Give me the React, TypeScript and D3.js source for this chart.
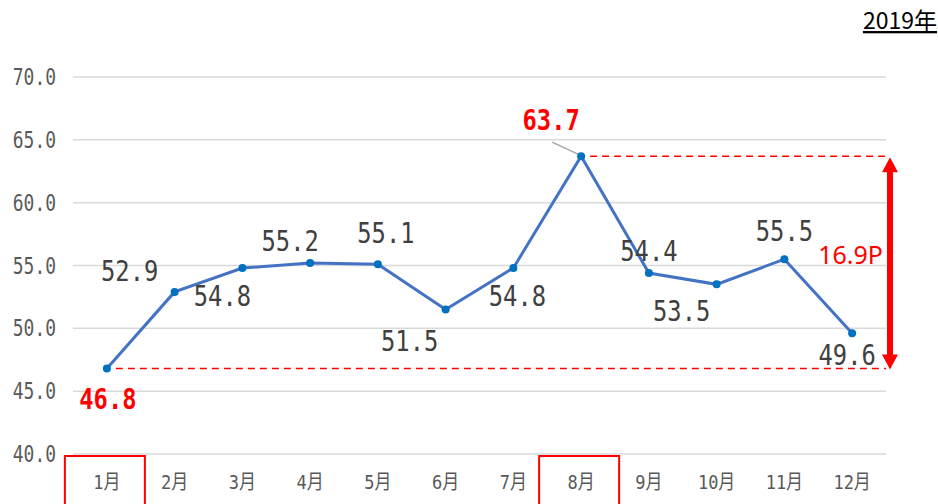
import React, { useEffect, useRef } from "react";
import * as d3 from "d3";

const months = ["1月", "2月", "3月", "4月", "5月", "6月", "7月", "8月", "9月", "10月", "11月", "12月"];
const values = [46.8, 52.9, 54.8, 55.2, 55.1, 51.5, 54.8, 63.7, 54.4, 53.5, 55.5, 49.6];
const yTicks = [40, 45, 50, 55, 60, 65, 70];
const highlighted = ["1月", "8月"];
const yearLabel = "2019年";
const diffLabel = "16.9P";

// label offsets from the point (dx, baseline dy)
const labelOffsets: [number, number][] = [
  [1, 40], [-45, -11], [-20, 38], [-20, -12], [8, -21], [-36, 42],
  [4, 38], [-30, -26], [0, -12], [-35, 37], [0, -18], [-5, 32],
];

const App: React.FC = () => {
  const svgRef: any = useRef();

  useEffect(() => {
    const svg = d3.select(svgRef.current);
    svg.selectAll("*").remove();

    const left = 73;
    const right = 886;
    const top = 77;
    const bottom = 454;

    const xScale = d3.scaleBand().domain(months).range([left, right]);
    const yScale = d3.scaleLinear().domain([40, 70]).range([bottom, top]);
    const cx = (m: string) => (xScale(m) as number) + xScale.bandwidth() / 2;

    const minV = d3.min(values) as number;
    const maxV = d3.max(values) as number;
    const minI = values.indexOf(minV);
    const maxI = values.indexOf(maxV);

    // grid
    yTicks.forEach((t) => {
      svg.append("line")
        .attr("x1", left).attr("x2", right)
        .attr("y1", yScale(t)).attr("y2", yScale(t))
        .attr("stroke", "#d9d9d9").attr("stroke-width", 1.5);

      svg.append("g")
        .attr("transform", `translate(56,${yScale(t) + 8}) scale(0.78,1)`)
        .append("text")
        .attr("text-anchor", "end")
        .attr("font-family", "DejaVu Sans Mono")
        .attr("font-size", 23)
        .attr("fill", "#595959")
        .text(t.toFixed(1));
    });

    // x labels
    months.forEach((m) => {
      svg.append("g")
        .attr("transform", `translate(${cx(m)},489) scale(0.85,1)`)
        .append("text")
        .attr("text-anchor", "middle")
        .attr("font-family", "'DejaVu Sans Mono', 'Noto Sans CJK JP'")
        .attr("font-size", 20)
        .attr("fill", "#595959")
        .text(m);
    });

    highlighted.forEach((m) => {
      svg.append("rect")
        .attr("x", cx(m) - 42).attr("y", 456)
        .attr("width", 80).attr("height", 60)
        .attr("fill", "none").attr("stroke", "#ff0000").attr("stroke-width", 2);
    });

    // min / max dashed lines
    [[minI, minV], [maxI, maxV]].forEach(([i, v]) => {
      svg.append("line")
        .attr("x1", cx(months[i]) + 9).attr("x2", right)
        .attr("y1", yScale(v)).attr("y2", yScale(v))
        .attr("stroke", "#ff0000").attr("stroke-width", 1.5)
        .attr("stroke-dasharray", "7,5");
    });

    // double arrow
    const ax = 890;
    const yTop = yScale(maxV) + 1;
    const yBot = yScale(minV) + 1;
    svg.append("line")
      .attr("x1", ax).attr("x2", ax)
      .attr("y1", yTop + 12).attr("y2", yBot - 12)
      .attr("stroke", "#ff0000").attr("stroke-width", 6);
    svg.append("path")
      .attr("d", `M${ax},${yTop} L${ax - 8},${yTop + 15} L${ax + 8},${yTop + 15} Z`)
      .attr("fill", "#ff0000");
    svg.append("path")
      .attr("d", `M${ax},${yBot} L${ax - 8},${yBot - 15} L${ax + 8},${yBot - 15} Z`)
      .attr("fill", "#ff0000");

    svg.append("text")
      .attr("x", 883).attr("y", 264)
      .attr("text-anchor", "end")
      .attr("font-family", "Noto Sans")
      .attr("font-size", 25)
      .attr("fill", "#ff0000")
      .text(diffLabel);

    // leader line for max label
    const mx = cx(months[maxI]);
    const my = yScale(maxV);
    svg.append("line")
      .attr("x1", mx - 29).attr("y1", my - 14)
      .attr("x2", mx - 1).attr("y2", my - 1)
      .attr("stroke", "#a6a6a6").attr("stroke-width", 1.5);

    // series line
    const line: any = d3.line<number>()
      .x((_, i) => cx(months[i]))
      .y((d) => yScale(d));

    svg.append("path")
      .datum(values)
      .attr("fill", "none")
      .attr("stroke", "#4472c4")
      .attr("stroke-width", 3)
      .attr("d", line);

    values.forEach((v, i) => {
      svg.append("circle")
        .attr("cx", cx(months[i])).attr("cy", yScale(v))
        .attr("r", 4).attr("fill", "#0070c0");
    });

    // data labels
    values.forEach((v, i) => {
      const isExt = i === minI || i === maxI;
      const [dx, dy] = labelOffsets[i];
      svg.append("g")
        .attr("transform", `translate(${cx(months[i]) + dx},${yScale(v) + dy}) scale(0.82,1)`)
        .append("text")
        .attr("text-anchor", "middle")
        .attr("font-family", "DejaVu Sans Mono")
        .attr("font-size", 29)
        .attr("font-weight", isExt ? "bold" : "normal")
        .attr("fill", isExt ? "#ff0000" : "#404040")
        .text(v.toFixed(1));
    });

    // year label
    svg.append("text")
      .attr("x", 937).attr("y", 29)
      .attr("text-anchor", "end")
      .attr("font-family", "'Noto Sans CJK JP'")
      .attr("font-size", 23)
      .attr("fill", "#000000")
      .attr("text-decoration", "underline")
      .text(yearLabel);
  }, []);

  return (
    <svg
      ref={svgRef}
      width={938}
      height={504}
      style={{ position: "absolute", left: 0, top: 0, background: "#ffffff" }}
    />
  );
};

export default App;
